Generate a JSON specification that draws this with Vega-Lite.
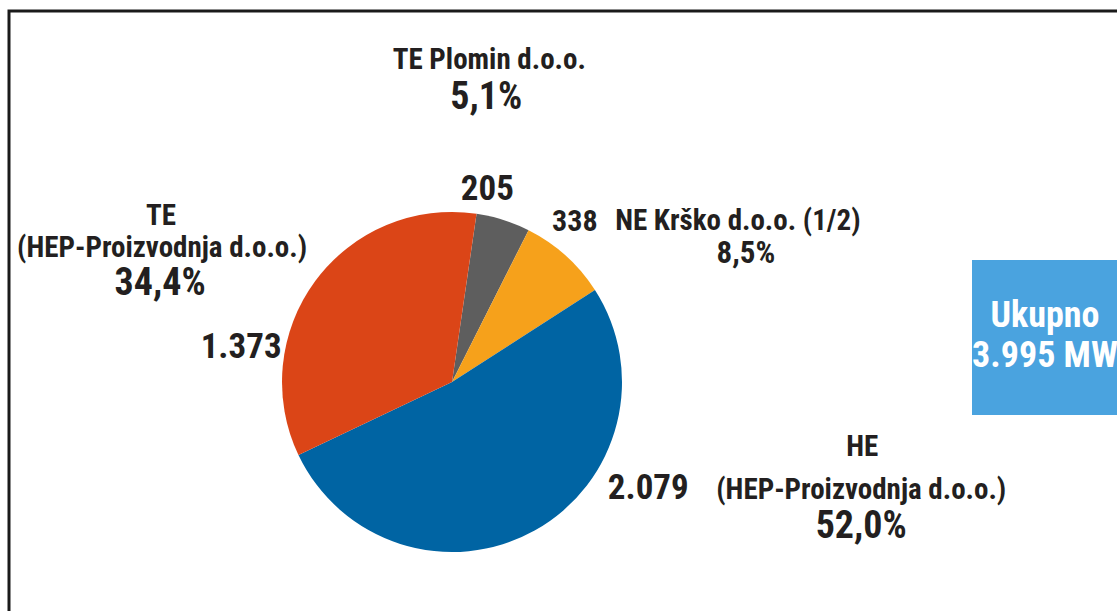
{
  "$schema": "https://vega.github.io/schema/vega-lite/v6.json",
  "width": 1108,
  "height": 600,
  "autosize": {"type": "none"},
  "padding": {"left": 9, "top": 11, "right": 0, "bottom": 0},
  "background": "white",
  "view": {"stroke": "#1a1a1a", "strokeWidth": 3, "strokeDash": [1108, 1708, 600]},
  "config": {
    "locale": {"number": {"decimal": ",", "thousands": ".", "grouping": [3], "currency": ["", " MW"]}},
    "text": {"font": "Roboto Condensed, Open Sans Condensed, Liberation Sans Narrow, serif", "fontWeight": "bold", "color": "#231f20"}
  },
  "datasets": {
    "capacity": [
      {"k": 1, "name": "TE Plomin d.o.o.", "line1": "TE Plomin d.o.o.", "line2": "", "value": 205, "pct": "5,1%"},
      {"k": 2, "name": "NE Krško d.o.o. (1/2)", "line1": "NE Krško d.o.o. (1/2)", "line2": "", "value": 338, "pct": "8,5%"},
      {"k": 3, "name": "HE (HEP-Proizvodnja d.o.o.)", "line1": "HE", "line2": "(HEP-Proizvodnja d.o.o.)", "value": 2079, "pct": "52,0%"},
      {"k": 4, "name": "TE (HEP-Proizvodnja d.o.o.)", "line1": "TE", "line2": "(HEP-Proizvodnja d.o.o.)", "value": 1373, "pct": "34,4%"}
    ]
  },
  "layer": [
    {
      "data": {"name": "capacity"},
      "encoding": {
        "theta": {"field": "value", "type": "quantitative", "stack": true, "scale": {"range": [0.145, 6.428]}},
        "order": {"field": "k", "type": "quantitative"},
        "detail": {"field": "name", "type": "nominal"}
      },
      "layer": [
        {
          "mark": {"type": "arc", "x": 443, "y": 371, "outerRadius": 170},
          "encoding": {
            "color": {
              "field": "name",
              "type": "nominal",
              "scale": {
                "domain": ["TE Plomin d.o.o.", "NE Krško d.o.o. (1/2)", "HE (HEP-Proizvodnja d.o.o.)", "TE (HEP-Proizvodnja d.o.o.)"],
                "range": ["#5e5e5e", "#f6a11b", "#0064a3", "#db4517"]
              },
              "legend": null
            }
          }
        },
        {
          "mark": {
            "type": "text", "x": 443, "y": 371, "radius": 200, "align": "center", "baseline": "alphabetic",
            "fontSize": {"expr": "datum.k == 2 ? 30 : 35"},
            "dx": {"expr": "[0, -25, -11, 99, -50][datum.k]"},
            "dy": {"expr": "[0, 9, -2, -58, 95][datum.k]"}
          },
          "encoding": {"text": {"field": "value", "type": "quantitative", "format": ",d"}}
        },
        {
          "mark": {
            "type": "text", "x": 443, "y": 371, "radius": 200, "align": "center", "baseline": "alphabetic",
            "fontSize": 29,
            "dx": {"expr": "[0, -23, 152, 313, -130][datum.k]"},
            "dy": {"expr": "[0, -122, -3, -101, -38][datum.k]"}
          },
          "encoding": {"text": {"field": "line1", "type": "nominal"}}
        },
        {
          "mark": {
            "type": "text", "x": 443, "y": 371, "radius": 200, "align": "center", "baseline": "alphabetic",
            "fontSize": 29,
            "dx": {"expr": "[0, 0, 0, 312, -129][datum.k]"},
            "dy": {"expr": "[0, 0, 0, -58, -6][datum.k]"}
          },
          "encoding": {"text": {"field": "line2", "type": "nominal"}}
        },
        {
          "mark": {
            "type": "text", "x": 443, "y": 371, "radius": 200, "align": "center", "baseline": "alphabetic",
            "fontSize": {"expr": "datum.k == 2 ? 31 : 38"},
            "dx": {"expr": "[0, -26, 160, 312, -131][datum.k]"},
            "dy": {"expr": "[0, -82, 30, -19, 32][datum.k]"}
          },
          "encoding": {"text": {"field": "pct", "type": "nominal"}}
        }
      ]
    },
    {
      "data": {"values": [{"label": "Ukupno"}]},
      "mark": {"type": "rect", "x": 963, "x2": 1108, "y": 249, "y2": 404, "color": "#4aa3df"}
    },
    {
      "data": {"values": [{"label": "Ukupno"}]},
      "mark": {"type": "text", "x": 1036, "y": 316, "align": "center", "baseline": "alphabetic", "fontSize": 36, "color": "white"},
      "encoding": {"text": {"field": "label", "type": "nominal"}}
    },
    {
      "data": {"name": "capacity"},
      "transform": [{"aggregate": [{"op": "sum", "field": "value", "as": "total"}]}],
      "mark": {"type": "text", "x": 1036, "y": 356, "align": "center", "baseline": "alphabetic", "fontSize": 36, "color": "white"},
      "encoding": {"text": {"field": "total", "type": "quantitative", "format": "$,d"}}
    }
  ]
}
